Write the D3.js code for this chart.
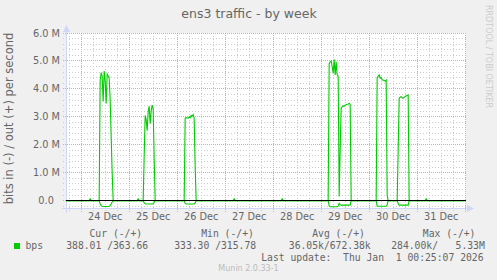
<!DOCTYPE html>
<html>
<head>
<meta charset="utf-8">
<script src="https://cdn.jsdelivr.net/npm/d3@7"></script>
<style>
  body { margin: 0; background: #f0f0f0; }
  svg { display: block; }
  text { white-space: pre; }
</style>
</head>
<body>
<div id="chart"></div>
<script>
// samples (30 min averages), values in Mbit/s
var sampleTimes = [
  "2025-12-23 16:30",
  "2025-12-24 04:00", "2025-12-24 04:30", "2025-12-24 05:00",
  "2025-12-24 09:00", "2025-12-24 09:30", "2025-12-24 10:00", "2025-12-24 10:30", "2025-12-24 11:00",
  "2025-12-24 11:30", "2025-12-24 12:00", "2025-12-24 12:30", "2025-12-24 13:00", "2025-12-24 13:30",
  "2025-12-24 14:00", "2025-12-24 14:30", "2025-12-24 15:00", "2025-12-24 15:30", "2025-12-24 16:00",
  "2025-12-25 04:00", "2025-12-25 04:30", "2025-12-25 05:00",
  "2025-12-25 07:00", "2025-12-25 07:30", "2025-12-25 08:00", "2025-12-25 08:30", "2025-12-25 09:00",
  "2025-12-25 09:30", "2025-12-25 10:00", "2025-12-25 10:30", "2025-12-25 11:00", "2025-12-25 11:30",
  "2025-12-25 12:00", "2025-12-25 12:30", "2025-12-25 13:00",
  "2025-12-26 03:30", "2025-12-26 04:00", "2025-12-26 04:30", "2025-12-26 05:00", "2025-12-26 05:30",
  "2025-12-26 06:00", "2025-12-26 06:30", "2025-12-26 07:00", "2025-12-26 07:30", "2025-12-26 08:00",
  "2025-12-26 08:30", "2025-12-26 09:00", "2025-12-26 09:30",
  "2025-12-27 04:00", "2025-12-27 04:30", "2025-12-27 05:00",
  "2025-12-28 04:00", "2025-12-28 04:30", "2025-12-28 05:00",
  "2025-12-29 03:30", "2025-12-29 04:00", "2025-12-29 04:30", "2025-12-29 05:00", "2025-12-29 05:30",
  "2025-12-29 06:00", "2025-12-29 06:30", "2025-12-29 07:00", "2025-12-29 07:30", "2025-12-29 08:00",
  "2025-12-29 08:30", "2025-12-29 09:00", "2025-12-29 09:30", "2025-12-29 10:00", "2025-12-29 10:30",
  "2025-12-29 11:00", "2025-12-29 11:30", "2025-12-29 12:00", "2025-12-29 12:30", "2025-12-29 13:00",
  "2025-12-29 13:30", "2025-12-29 14:00", "2025-12-29 14:30", "2025-12-29 15:00",
  "2025-12-30 03:30", "2025-12-30 04:00", "2025-12-30 04:30", "2025-12-30 05:00", "2025-12-30 05:30",
  "2025-12-30 06:00", "2025-12-30 06:30", "2025-12-30 07:00", "2025-12-30 07:30", "2025-12-30 08:00",
  "2025-12-30 08:30", "2025-12-30 09:00", "2025-12-30 09:30",
  "2025-12-30 14:00", "2025-12-30 14:30", "2025-12-30 15:00", "2025-12-30 15:30", "2025-12-30 16:00",
  "2025-12-30 16:30", "2025-12-30 17:00", "2025-12-30 17:30", "2025-12-30 18:00", "2025-12-30 18:30",
  "2025-12-30 19:00", "2025-12-30 19:30", "2025-12-30 20:00",
  "2025-12-31 04:00", "2025-12-31 04:30", "2025-12-31 05:00",
  "2026-01-01 00:00"
];

// out (+)
var outMbps = [
  0.0004,
  0.0004, 0.06, 0.0004,
  0.0004, 4.3, 4.58, 4.45, 3.55,
  4.64, 4.3, 3.48, 4.53, 4.46,
  4.4, 3.6, 2.3, 1.0, 0.0004,
  0.0004, 0.06, 0.0004,
  0.0004, 1.6, 3.05, 2.9, 2.5,
  3.2, 3.38, 2.75, 3.2, 3.42,
  3.3, 1.5, 0.0004,
  0.0004, 2.95, 2.97, 2.96, 2.95,
  3.0, 2.97, 3.05, 3.02, 3.08,
  2.95, 1.2, 0.0004,
  0.0004, 0.06, 0.0004,
  0.0004, 0.06, 0.0004,
  0.0004, 4.9, 4.97, 5.0, 4.8,
  4.55, 5.06, 4.5, 4.97, 4.5,
  4.45, 0.15, 1.8, 3.3, 3.36,
  3.39, 3.38, 3.42, 3.43, 3.45,
  3.46, 3.48, 3.45, 0.0004,
  0.0004, 4.4, 4.46, 4.5, 4.38,
  4.41, 4.32, 4.32, 4.3, 4.28,
  4.32, 0.2, 0.0004,
  0.0004, 1.8, 3.66, 3.7, 3.72,
  3.68, 3.66, 3.7, 3.72, 3.75,
  3.76, 3.78, 0.0004,
  0.0004, 0.06, 0.0004,
  0.0004
];

// in (-), drawn below zero
var inMbps = [
  0.0004,
  0.0004, 0.0004, 0.0004,
  0.0004, 0.12, 0.18, 0.2, 0.21,
  0.21, 0.21, 0.21, 0.21, 0.21,
  0.2, 0.18, 0.12, 0.05, 0.0004,
  0.0004, 0.0004, 0.0004,
  0.0004, 0.08, 0.11, 0.12, 0.12,
  0.12, 0.12, 0.12, 0.12, 0.12,
  0.11, 0.06, 0.0004,
  0.0004, 0.1, 0.12, 0.12, 0.12,
  0.12, 0.12, 0.12, 0.12, 0.12,
  0.12, 0.08, 0.0004,
  0.0004, 0.0004, 0.0004,
  0.0004, 0.0004, 0.0004,
  0.0004, 0.18, 0.22, 0.22, 0.22,
  0.22, 0.22, 0.22, 0.22, 0.22,
  0.2, 0.1, 0.15, 0.16, 0.16,
  0.16, 0.16, 0.16, 0.16, 0.16,
  0.16, 0.16, 0.16, 0.0004,
  0.0004, 0.2, 0.2, 0.2, 0.2,
  0.2, 0.2, 0.2, 0.2, 0.2,
  0.2, 0.15, 0.0004,
  0.0004, 0.1, 0.16, 0.16, 0.16,
  0.16, 0.16, 0.16, 0.16, 0.16,
  0.16, 0.16, 0.0004,
  0.0004, 0.0004, 0.0004,
  0.0004
];

var yTickValues = [0, 1, 2, 3, 4, 5, 6];
var yTickLabels = ["0.0  ", "1.0 M", "2.0 M", "3.0 M", "4.0 M", "5.0 M", "6.0 M"];
var legendHeaders = ["Cur (-/+)", "Min (-/+)", "Avg (-/+)", "Max (-/+)"];
var legendValues = ["388.01 /363.66", "333.30 /315.78", "36.05k/672.38k", "284.00k/   5.33M"];
var lastUpdate = "Last update:  Thu Jan  1 00:25:07 2026";

var width = 497, height = 280;
var plotLeft = 66, plotRight = 466, plotTop = 33, plotBottom = 209;
var fontColor = "#666666";
var axisColor = "#cfd6f8";
var lineColor = "#00cc00";
var sans = "'DejaVu Sans', sans-serif";
var mono = "'DejaVu Sans Mono', monospace";

var parseTime = d3.utcParse("%Y-%m-%d %H:%M");
var data = sampleTimes.map(function (t, i) {
  return { t: parseTime(t), out: outMbps[i], inn: inMbps[i] };
});

var start = new Date(Date.UTC(2025, 11, 23, 16, 25));
var end = new Date(Date.UTC(2026, 0, 1, 0, 25));

var x = d3.scaleUtc().domain([start, end]).range([plotLeft, plotRight]);
var y = d3.scaleLinear().domain([-0.3, 6]).range([plotBottom, plotTop]);

function snap(v) { return Math.round(v - 0.5) + 0.5; }

var svg = d3.select("#chart").append("svg")
  .attr("width", width)
  .attr("height", height);

svg.append("rect").attr("width", width).attr("height", height).attr("fill", "#f0f0f0");
svg.append("rect")
  .attr("x", plotLeft).attr("y", plotTop)
  .attr("width", plotRight - plotLeft).attr("height", plotBottom - plotTop)
  .attr("fill", "#ffffff");

// minor grid
var grid = svg.append("g");
var minorY = d3.range(-0.2, 6.01, 0.2).filter(function (v) { return Math.abs(v - Math.round(v)) > 0.01; });
grid.selectAll(".minorY").data(minorY).enter().append("line")
  .attr("x1", plotLeft - 3).attr("x2", plotRight)
  .attr("y1", function (d) { return snap(y(d)); })
  .attr("y2", function (d) { return snap(y(d)); })
  .attr("stroke", "#cccccc").attr("stroke-dasharray", "1,2");

var minorX = d3.utcHour.every(6).range(start, end).filter(function (d) { return d.getUTCHours() !== 0; });
grid.selectAll(".minorX").data(minorX).enter().append("line")
  .attr("x1", function (d) { return snap(x(d)); })
  .attr("x2", function (d) { return snap(x(d)); })
  .attr("y1", plotTop).attr("y2", plotBottom + 3)
  .attr("stroke", "#cccccc").attr("stroke-dasharray", "1,2");

// major grid
grid.selectAll(".majorY").data(yTickValues).enter().append("line")
  .attr("x1", plotLeft - 3).attr("x2", plotRight)
  .attr("y1", function (d) { return snap(y(d)); })
  .attr("y2", function (d) { return snap(y(d)); })
  .attr("stroke", "#f0a0a0").attr("stroke-dasharray", "1,1");

var days = d3.utcDay.range(start, end);
grid.selectAll(".majorX").data(days).enter().append("line")
  .attr("x1", function (d) { return snap(x(d)); })
  .attr("x2", function (d) { return snap(x(d)); })
  .attr("y1", plotTop).attr("y2", plotBottom + 4)
  .attr("stroke", "#f0a0a0").attr("stroke-dasharray", "1,1");

// axes
svg.append("line")
  .attr("x1", plotLeft - 4).attr("x2", plotRight + 2)
  .attr("y1", plotBottom - 0.5).attr("y2", plotBottom - 0.5)
  .attr("stroke", axisColor);
svg.append("line")
  .attr("x1", plotLeft + 0.5).attr("x2", plotLeft + 0.5)
  .attr("y1", plotBottom + 4).attr("y2", plotTop - 3)
  .attr("stroke", axisColor);
svg.append("path")
  .attr("d", "M" + (plotRight + 8) + "," + (plotBottom - 0.5) + "L" + (plotRight + 1) + "," + (plotBottom - 4) + "L" + (plotRight + 1) + "," + (plotBottom + 3) + "Z")
  .attr("fill", axisColor);
svg.append("path")
  .attr("d", "M" + (plotLeft + 0.5) + "," + (plotTop - 8) + "L" + (plotLeft - 3) + "," + (plotTop - 1) + "L" + (plotLeft + 4) + "," + (plotTop - 1) + "Z")
  .attr("fill", axisColor);

// data lines
var outLine = d3.line()
  .x(function (d) { return x(d.t); })
  .y(function (d) { return y(d.out); });
var inLine = d3.line()
  .x(function (d) { return x(d.t); })
  .y(function (d) { return y(-d.inn); });

svg.append("path").datum(data).attr("d", inLine)
  .attr("fill", "none").attr("stroke", lineColor).attr("stroke-width", 1.1);
svg.append("path").datum(data).attr("d", outLine)
  .attr("fill", "none").attr("stroke", lineColor).attr("stroke-width", 1.1);

// zero line
svg.append("line")
  .attr("x1", plotLeft).attr("x2", plotRight)
  .attr("y1", snap(y(0))).attr("y2", snap(y(0)))
  .attr("stroke", "#000000");

// y tick labels
svg.selectAll(".ylab").data(yTickValues).enter().append("text")
  .attr("x", 60)
  .attr("y", function (d) { return snap(y(d)) + 3.5; })
  .attr("text-anchor", "end")
  .attr("font-family", sans).attr("font-size", 9.72)
  .attr("fill", fontColor)
  .text(function (d, i) { return yTickLabels[i]; });

// x tick labels at noon
var noon = days.map(function (d) { return d3.utcHour.offset(d, 12); })
  .filter(function (d) { return d > start && d < end; });
svg.selectAll(".xlab").data(noon).enter().append("text")
  .attr("x", function (d) { return x(d); })
  .attr("y", 220)
  .attr("text-anchor", "middle")
  .attr("font-family", sans).attr("font-size", 9.72)
  .attr("fill", fontColor)
  .text(function (d) { return d3.utcFormat("%d %b")(d); });

// title
svg.append("text")
  .attr("x", 249).attr("y", 17.5)
  .attr("text-anchor", "middle")
  .attr("font-family", sans).attr("font-size", 12.5)
  .attr("fill", fontColor)
  .text("ens3 traffic - by week");

// vertical label
svg.append("text")
  .attr("transform", "translate(13,118.5)rotate(-90)")
  .attr("text-anchor", "middle")
  .attr("font-family", sans).attr("font-size", 11.5)
  .attr("fill", fontColor)
  .text("bits in (-) / out (+) per second");

// rrdtool watermark
svg.append("text")
  .attr("transform", "translate(486,56.5)rotate(90)")
  .attr("text-anchor", "middle")
  .attr("font-family", sans).attr("font-size", 8)
  .attr("fill", "#cccccc")
  .text("RRDTOOL / TOBI OETIKER");

// legend
var headerX = [90, 201.7, 312.7, 423.3];
var valueX = [66.7, 174.7, 289.3, 391.7];
svg.selectAll(".lh").data(legendHeaders).enter().append("text")
  .attr("x", function (d, i) { return headerX[i] - 0.5; })
  .attr("y", 236.5)
  .attr("font-family", mono).attr("font-size", 9.72)
  .attr("fill", fontColor)
  .text(function (d) { return d; });

svg.append("rect")
  .attr("x", 14).attr("y", 243).attr("width", 6).attr("height", 6)
  .attr("fill", lineColor);
svg.append("text")
  .attr("x", 25.5).attr("y", 249)
  .attr("font-family", mono).attr("font-size", 9.72)
  .attr("fill", fontColor)
  .text("bps");

svg.selectAll(".lv").data(legendValues).enter().append("text")
  .attr("x", function (d, i) { return valueX[i] - 0.5; })
  .attr("y", 249)
  .attr("font-family", mono).attr("font-size", 9.72)
  .attr("fill", fontColor)
  .text(function (d) { return d; });

svg.append("text")
  .attr("x", 261.2).attr("y", 260.5)
  .attr("font-family", mono).attr("font-size", 9.72)
  .attr("fill", fontColor)
  .text(lastUpdate);

svg.append("text")
  .attr("x", 248.5).attr("y", 271)
  .attr("text-anchor", "middle")
  .attr("font-family", sans).attr("font-size", 8)
  .attr("fill", "#bbbbbb")
  .text("Munin 2.0.33-1");
</script>
</body>
</html>
